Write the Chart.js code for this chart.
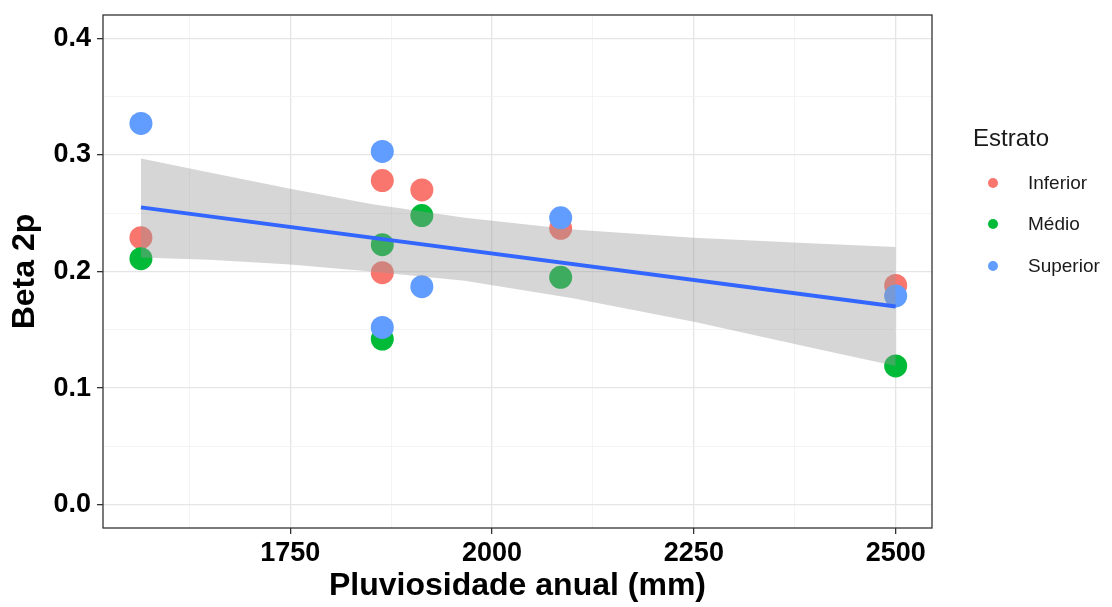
<!DOCTYPE html>
<html>
<head>
<meta charset="utf-8">
<script src="https://cdn.jsdelivr.net/npm/chart.js@4"></script>
<style>
  body { margin: 0; background: #fff; }
  #wrap { width: 1112px; height: 607px; }
</style>
</head>
<body>
<div id="wrap"><canvas id="myChart" width="1112" height="607"></canvas></div>
<script>
// site rainfall (mm) and Beta 2p per stratum
const rainfall = [1565, 1864, 1864, 1913, 2085, 2500];
const inferior = [0.229, 0.278, 0.199, 0.270, 0.237, 0.188];
const medio = [0.211, 0.223, 0.142, 0.248, 0.195, 0.119];
const superior = [0.327, 0.303, 0.152, 0.187, 0.246, 0.179];

// fitted line and confidence band
const fitX = [1565, 2500];
const fitY = [0.255, 0.170];
const bandX = [1565, 1650, 1750, 1850, 1966, 2100, 2250, 2400, 2500];
const bandUpper = [0.297, 0.285, 0.271, 0.258, 0.246, 0.236, 0.229, 0.224, 0.221];
const bandLower = [0.212, 0.210, 0.206, 0.200, 0.192, 0.177, 0.157, 0.134, 0.119];

const xTicks = [1750, 2000, 2250, 2500];
const xMinor = [1625, 1875, 2125, 2375];
const yTicks = [0, 0.1, 0.2, 0.3, 0.4];
const yMinor = [0.05, 0.15, 0.25, 0.35];

const strata = ['Inferior', 'Médio', 'Superior'];
const colors = ['#F8766D', '#00BA38', '#619CFF'];

Chart.defaults.font.family = "'Liberation Sans', Arial, sans-serif";

const pts = (xs, ys) => xs.map((x, i) => ({ x: x, y: ys[i] }));

function gridOpts(major) {
    return {
        color: c => (c.tick && major.includes(c.tick.value)) ? '#E5E5E5' : '#F1F1F1',
        lineWidth: c => (c.tick && major.includes(c.tick.value)) ? 1.3 : 0.8,
        tickColor: c => (c.tick && major.includes(c.tick.value)) ? '#333333' : 'rgba(0,0,0,0)',
        tickLength: 6,
        tickWidth: 1.3
    };
}

const tickFont = { size: 27, weight: 'bold' };
const titleFont = { size: 32, weight: 'bold' };

// panel border and the legend on the right
const decor = {
    id: 'decor',
    afterDraw(chart) {
        const ctx = chart.ctx;
        const a = chart.chartArea;
        ctx.save();
        ctx.strokeStyle = '#333333';
        ctx.lineWidth = 1.3;
        ctx.strokeRect(a.left, a.top, a.right - a.left, a.bottom - a.top);

        ctx.fillStyle = '#1a1a1a';
        ctx.font = "24px 'Liberation Sans', Arial, sans-serif";
        ctx.textBaseline = 'alphabetic';
        ctx.textAlign = 'left';
        ctx.fillText('Estrato', 973, 146);

        const keyY = [183, 224, 266];
        ctx.font = "19px 'Liberation Sans', Arial, sans-serif";
        ctx.textBaseline = 'middle';
        strata.forEach((s, i) => {
            ctx.fillStyle = colors[i];
            ctx.beginPath();
            ctx.arc(993, keyY[i], 5, 0, Math.PI * 2);
            ctx.fill();
            ctx.fillStyle = '#1a1a1a';
            ctx.fillText(s, 1028, keyY[i] + 1);
        });
        ctx.restore();
    }
};

new Chart(document.getElementById('myChart'), {
    type: 'scatter',
    data: {
        datasets: [
            {
                type: 'line', label: 'fit', data: pts(fitX, fitY),
                borderColor: '#3366FF', borderWidth: 4, pointRadius: 0, fill: false, order: 0
            },
            {
                type: 'line', label: 'upper', data: pts(bandX, bandUpper),
                borderColor: 'rgba(0,0,0,0)', pointRadius: 0, fill: false, order: 1
            },
            {
                type: 'line', label: 'lower', data: pts(bandX, bandLower),
                borderColor: 'rgba(0,0,0,0)', pointRadius: 0, fill: '-1',
                backgroundColor: 'rgba(153,153,153,0.4)', order: 1
            },
            { label: 'Superior', data: pts(rainfall, superior), backgroundColor: colors[2], pointRadius: 11.5, borderWidth: 0, order: 2 },
            { label: 'Médio', data: pts(rainfall, medio), backgroundColor: colors[1], pointRadius: 11.5, borderWidth: 0, order: 3 },
            { label: 'Inferior', data: pts(rainfall, inferior), backgroundColor: colors[0], pointRadius: 11.5, borderWidth: 0, order: 4 }
        ]
    },
    options: {
        responsive: false,
        animation: false,
        events: [],
        layout: { padding: { top: 15, right: 180, left: 0, bottom: 0 } },
        plugins: {
            legend: { display: false },
            tooltip: { enabled: false }
        },
        scales: {
            x: {
                type: 'linear',
                min: 1518,
                max: 2545,
                afterBuildTicks: s => {
                    s.ticks = xMinor.concat(xTicks).sort((a, b) => a - b).map(v => ({ value: v }));
                },
                afterFit: s => { s.height = 79; },
                ticks: {
                    callback: v => xTicks.includes(v) ? String(v) : '',
                    font: tickFont, color: '#000', padding: 3,
                    maxRotation: 0, autoSkip: false
                },
                grid: gridOpts(xTicks),
                border: { display: false },
                title: {
                    display: true, text: 'Pluviosidade anual (mm)',
                    font: titleFont, color: '#000', padding: { top: 0, bottom: 2 }
                }
            },
            y: {
                min: -0.02,
                max: 0.42,
                afterBuildTicks: s => {
                    s.ticks = yMinor.concat(yTicks).sort((a, b) => a - b).map(v => ({ value: v }));
                },
                afterFit: s => {
                    s.width = 103;
                    s.paddingTop = 0;
                    s.paddingBottom = 0;
                },
                ticks: {
                    callback: v => yTicks.includes(v) ? v.toFixed(1) : '',
                    font: tickFont, color: '#000', padding: 6, autoSkip: false
                },
                grid: gridOpts(yTicks),
                border: { display: false },
                title: {
                    display: true, text: 'Beta 2p',
                    font: titleFont, color: '#000', padding: { top: 6, bottom: 0 }
                }
            }
        }
    },
    plugins: [decor]
});
</script>
</body>
</html>
